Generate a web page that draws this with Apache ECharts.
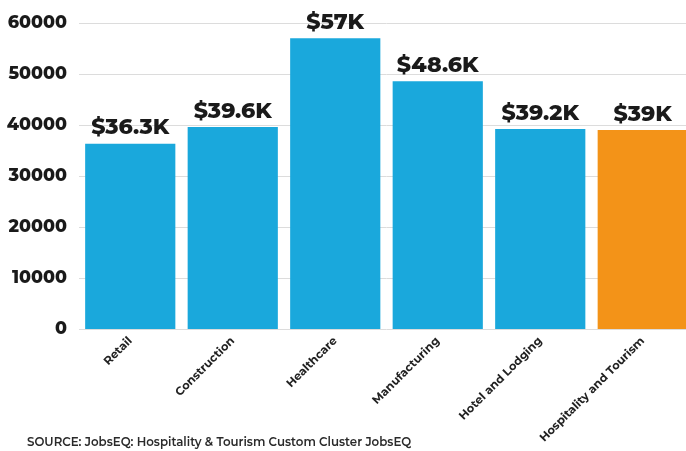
<!DOCTYPE html>
<html>
<head>
<meta charset="utf-8">
<script src="https://cdn.jsdelivr.net/npm/echarts@6/dist/echarts.min.js"></script>
<style>
  html, body { margin: 0; padding: 0; background: #fff; overflow: hidden; }
  #chart { width: 694px; height: 451px; }
</style>
</head>
<body>
<div id="chart"></div>
<script>
// Average annual wages by industry
const categories = ['Retail', 'Construction', 'Healthcare', 'Manufacturing', 'Hotel and Lodging', 'Hospitality and Tourism'];
const wages = [36300, 39600, 57000, 48600, 39200, 39000];
const barColors = ['#1aa8dc', '#1aa8dc', '#1aa8dc', '#1aa8dc', '#1aa8dc', '#f39318'];
const yTicks = [0, 10000, 20000, 30000, 40000, 50000, 60000];
const sourceNote = 'SOURCE: JobsEQ: Hospitality & Tourism Custom Cluster JobsEQ';

const font = 'Montserrat, "DejaVu Sans", "Open Sans", sans-serif';

const chart = echarts.init(document.getElementById('chart'), null, { renderer: 'canvas' });
chart.setOption({
  animation: false,
  backgroundColor: '#ffffff',
  grid: { left: 79, right: 0, top: 23, bottom: 122, containLabel: false },
  graphic: [{
    type: 'text',
    left: 27,
    top: 437,
    style: { text: sourceNote, font: '600 11.8px ' + font, fill: '#2a2a2a' }
  }],
  xAxis: {
    type: 'category',
    data: categories,
    axisLine: { show: false },
    axisTick: { show: false },
    axisLabel: {
      rotate: 45,
      interval: 0,
      margin: 10,
      fontFamily: font,
      fontWeight: 'bold',
      fontSize: 11.5,
      color: '#222'
    }
  },
  yAxis: {
    type: 'value',
    min: yTicks[0],
    max: yTicks[yTicks.length - 1],
    interval: 10000,
    axisLine: { show: false },
    axisTick: { show: false },
    splitLine: { lineStyle: { color: '#dcdcdc', width: 1 } },
    axisLabel: {
      margin: 12,
      fontFamily: font,
      fontWeight: 800,
      fontSize: 17.5,
      color: '#1a1a1a',
      formatter: v => String(v)
    }
  },
  series: [{
    type: 'bar',
    barCategoryGap: '12%',
    data: wages.map((v, i) => ({ value: v, itemStyle: { color: barColors[i] } })),
    label: {
      show: true,
      position: 'top',
      distance: 5,
      fontFamily: font,
      fontWeight: 800,
      fontSize: 22,
      color: '#1a1a1a',
      formatter: p => '$' + (p.value / 1000) + 'K'
    }
  }]
});
</script>
</body>
</html>
